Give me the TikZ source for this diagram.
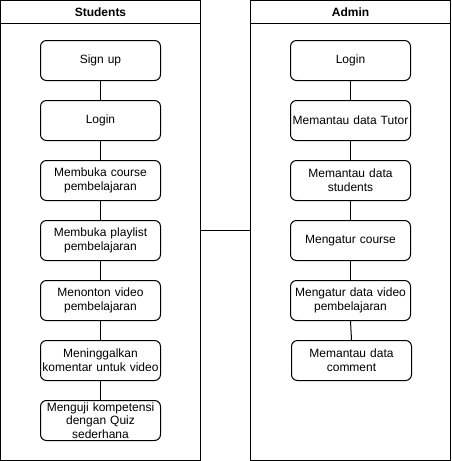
\documentclass[tikz,border=0pt]{standalone}
\usepackage{fontspec}
\setmainfont{Liberation Sans}
\begin{document}
\begin{tikzpicture}[x=1pt,y=-1pt,
  lane/.style={draw, line width=1pt, minimum width=200pt, minimum height=460pt, inner sep=0pt},
  lanehead/.style={font=\fontsize{12}{14}\selectfont\bfseries, inner sep=0pt},
  box/.style={draw, line width=1pt, rounded corners=6pt, minimum width=120pt, minimum height=40pt,
    text width=118pt, align=center, inner sep=0pt, font=\fontsize{12}{14}\selectfont},
  tight/.style={font=\fontsize{12}{13.3}\selectfont},
  link/.style={line width=1pt}]
\useasboundingbox (0,0) rectangle (451,461);
% lanes
\node[lane] (students) at (100.5,230.5) {};
\node[lane] (admin) at (350.5,230.5) {};
\draw[link] (0.5,23) -- (200.5,23);
\draw[link] (250.5,23) -- (450.5,23);
\node[lanehead] (sh) at (100.5,12) {Students};
\node[lanehead] (ah) at (350.5,12) {Admin};
% student boxes
\node[box] (s1) at (100.5,60.5) {Sign up};
\node[box] (s2) at (100.5,120.5) {Login};
\node[box] (s3) at (100.5,180.5) {Membuka course\\pembelajaran};
\node[box] (s4) at (100.5,240.5) {Membuka playlist\\pembelajaran};
\node[box] (s5) at (100.5,300.5) {Menonton video\\pembelajaran};
\node[box] (s6) at (100.5,360.5) {Meninggalkan\\komentar untuk video};
\node[box,tight] (s7) at (100.5,420.5) {Menguji kompetensi\\dengan Quiz\\sederhana};
% admin boxes
\node[box] (a1) at (350.5,60.5) {Login};
\node[box] (a2) at (350.5,120.5) {Memantau data Tutor};
\node[box] (a3) at (350.5,180.5) {Memantau data\\students};
\node[box] (a4) at (350.5,240.5) {Mengatur course};
\node[box] (a5) at (350.5,300.5) {Mengatur data video\\pembelajaran};
\node[box] (a6) at (351.5,360.5) {Memantau data\\comment};
% connectors
\draw[link] (s1) -- (s2);
\draw[link] (s2) -- (s3);
\draw[link] (s3) -- (s4);
\draw[link] (s4) -- (s5);
\draw[link] (s5) -- (s6);
\draw[link] (s6) -- (s7);
\draw[link] (a1) -- (a2);
\draw[link] (a2) -- (a3);
\draw[link] (a3) -- (a4);
\draw[link] (a4) -- (a5);
\draw[link] (a5.south) -- (a6.north);
\draw[link] (students.east) -- (admin.west);
\end{tikzpicture}
\end{document}
